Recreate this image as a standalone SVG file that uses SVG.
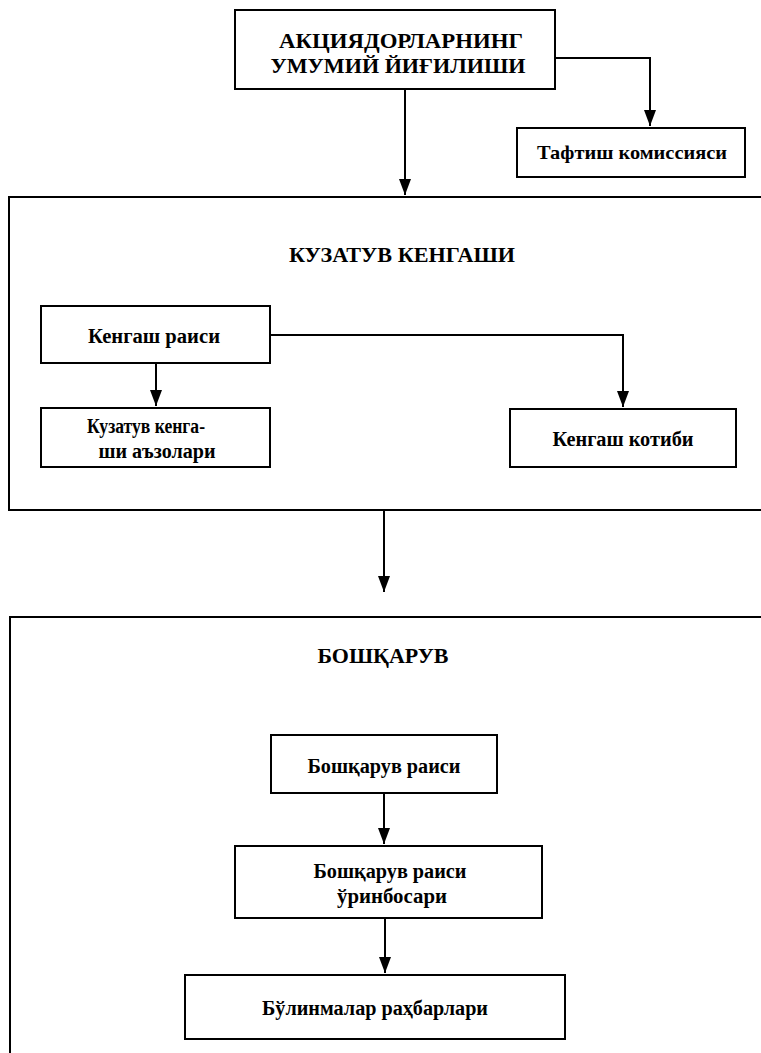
<svg xmlns="http://www.w3.org/2000/svg" width="761" height="1053" viewBox="0 0 761 1053">
<style>
.box{fill:#fff;stroke:#000;stroke-width:2}
.frame{fill:none;stroke:#000;stroke-width:2}
.t{font-family:"Liberation Serif","Times New Roman",serif;font-weight:bold;fill:#000}
.conn{fill:none;stroke:#000;stroke-width:2}
</style>
<defs>
<marker id="arr" markerUnits="userSpaceOnUse" markerWidth="12" markerHeight="16" viewBox="0 0 12 16" refX="6" refY="16" orient="auto-start-reverse">
<path d="M0,0 L12,0 L6,16 Z" fill="#000" transform="rotate(-90 6 8) translate(-2 2)"/>
</marker>
<marker id="ah" markerUnits="userSpaceOnUse" markerWidth="16" markerHeight="12" viewBox="0 0 16 12" refX="16" refY="6" orient="auto">
<path d="M0,0 L16,6 L0,12 Z" fill="#000"/>
</marker>
</defs>
<rect width="761" height="1053" fill="#fff"/>

<g id="kuzatuv-kengashi">
<rect class="frame" x="9" y="197" width="800" height="313"/>
<text class="t" x="402" y="262" font-size="20" text-anchor="middle" textLength="226" lengthAdjust="spacingAndGlyphs">КУЗАТУВ КЕНГАШИ</text>
</g>
<g id="boshqaruv">
<rect class="frame" x="10" y="617" width="800" height="500"/>
<text class="t" x="383" y="663" font-size="20" text-anchor="middle" textLength="131" lengthAdjust="spacingAndGlyphs">БОШҚАРУВ</text>
</g>

<g id="connectors">
<path class="conn" d="M405,89 V195" marker-end="url(#ah)"/>
<path class="conn" d="M555,58 H650 V126" marker-end="url(#ah)"/>
<path class="conn" d="M156,363 V406" marker-end="url(#ah)"/>
<path class="conn" d="M270,335 H623 V407" marker-end="url(#ah)"/>
<path class="conn" d="M384,510 V592" marker-end="url(#ah)"/>
<path class="conn" d="M384,793 V844" marker-end="url(#ah)"/>
<path class="conn" d="M385,918 V973" marker-end="url(#ah)"/>
</g>

<g id="aksiyadorlar">
<rect class="box" x="235" y="10" width="320" height="79"/>
<text class="t" x="401" y="48" font-size="22" text-anchor="middle" textLength="244" lengthAdjust="spacingAndGlyphs">АКЦИЯДОРЛАРНИНГ</text>
<text class="t" x="398" y="73" font-size="22" text-anchor="middle" textLength="255" lengthAdjust="spacingAndGlyphs">УМУМИЙ ЙИҒИЛИШИ</text>
</g>
<g id="taftish">
<rect class="box" x="517" y="128" width="228" height="49"/>
<text class="t" x="632" y="159" font-size="19" text-anchor="middle" textLength="190" lengthAdjust="spacingAndGlyphs">Тафтиш комиссияси</text>
</g>
<g id="kengash-raisi">
<rect class="box" x="41" y="306" width="229" height="57"/>
<text class="t" x="154" y="343" font-size="20" text-anchor="middle" textLength="132" lengthAdjust="spacingAndGlyphs">Кенгаш раиси</text>
</g>
<g id="kengash-azolari">
<rect class="box" x="41" y="408" width="229" height="59"/>
<text class="t" x="146" y="433" font-size="20" text-anchor="middle" textLength="118" lengthAdjust="spacingAndGlyphs">Кузатув кенга-</text>
<text class="t" x="157" y="458" font-size="20" text-anchor="middle" textLength="117" lengthAdjust="spacingAndGlyphs">ши аъзолари</text>
</g>
<g id="kengash-kotibi">
<rect class="box" x="510" y="409" width="226" height="58"/>
<text class="t" x="623" y="446" font-size="20" text-anchor="middle" textLength="141" lengthAdjust="spacingAndGlyphs">Кенгаш котиби</text>
</g>
<g id="boshqaruv-raisi">
<rect class="box" x="271" y="735" width="226" height="58"/>
<text class="t" x="384" y="773" font-size="20" text-anchor="middle" textLength="153" lengthAdjust="spacingAndGlyphs">Бошқарув раиси</text>
</g>
<g id="raisi-orinbosari">
<rect class="box" x="235" y="846" width="307" height="72"/>
<text class="t" x="390" y="878" font-size="20" text-anchor="middle" textLength="153" lengthAdjust="spacingAndGlyphs">Бошқарув раиси</text>
<text class="t" x="392" y="903" font-size="20" text-anchor="middle" textLength="110" lengthAdjust="spacingAndGlyphs">ўринбосари</text>
</g>
<g id="bolinmalar">
<rect class="box" x="185" y="975" width="380" height="64"/>
<text class="t" x="375" y="1015" font-size="20" text-anchor="middle" textLength="226" lengthAdjust="spacingAndGlyphs">Бўлинмалар раҳбарлари</text>
</g>
</svg>
